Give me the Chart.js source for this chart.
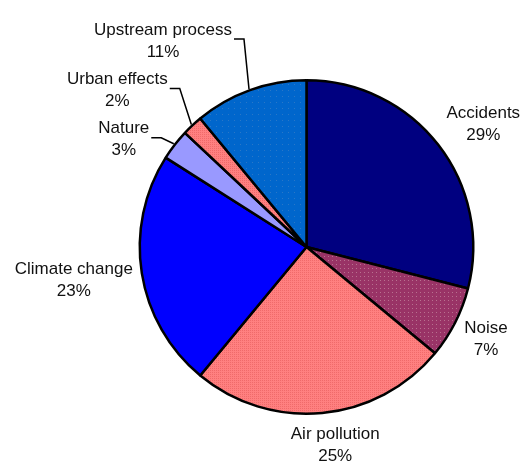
<!DOCTYPE html>
<html>
<head>
<meta charset="utf-8">
<script src="https://cdn.jsdelivr.net/npm/chart.js@4/dist/chart.umd.min.js"></script>
<style>
  html, body { margin: 0; padding: 0; background: #fff; }
  #wrap { width: 524px; height: 462px; }
</style>
</head>
<body>
<div id="wrap"><canvas id="pie" width="524" height="462"></canvas></div>
<script>
// data
const categories = ["Accidents", "Noise", "Air pollution", "Climate change", "Nature", "Urban effects", "Upstream process"];
const shares = [29, 7, 25, 23, 3, 2, 11];

// label placement: offset of label centre from the slice's outer edge (mid angle)
const labelOffsets = [[45, -20], [31, 17], [13, 32], [-68, 7], [-51, -5], [-75, -35], [-87, -49]];
const withLeader = [false, false, false, false, true, true, true];

// small dotted fills like the old office chart
function dotPattern(base, dot, step) {
  const c = document.createElement("canvas");
  c.width = step; c.height = step;
  const g = c.getContext("2d");
  g.fillStyle = base;
  g.fillRect(0, 0, step, step);
  g.fillStyle = dot;
  g.fillRect(0, 0, 1, 1);
  return g.createPattern(c, "repeat");
}

const ctx = document.getElementById("pie").getContext("2d");
const fills = [
  "#000080",
  dotPattern("#993366", "#b8708f", 4),
  dotPattern("#ff8080", "#f06a6a", 2),
  "#0000ff",
  "#9999ff",
  dotPattern("#ff8080", "#f06a6a", 2),
  dotPattern("#0066cc", "#2a78c8", 6)
];

const labelPlugin = {
  id: "outerLabels",
  afterDatasetsDraw(chart) {
    const g = chart.ctx;
    const arcs = chart.getDatasetMeta(0).data;
    g.save();
    g.font = "17px 'Liberation Sans', Arial, sans-serif";
    g.fillStyle = "#111";
    g.textAlign = "center";
    g.textBaseline = "middle";
    g.strokeStyle = "#000";
    g.lineWidth = 1.5;
    arcs.forEach((arc, i) => {
      const p = arc.getProps(["x", "y", "startAngle", "endAngle", "outerRadius"], true);
      const mid = (p.startAngle + p.endAngle) / 2;
      const ex = p.x + Math.cos(mid) * p.outerRadius;
      const ey = p.y + Math.sin(mid) * p.outerRadius;
      const lx = ex + labelOffsets[i][0];
      const ly = ey + labelOffsets[i][1];
      const l1 = categories[i];
      const l2 = shares[i] + "%";
      g.fillText(l1, lx, ly - 11);
      g.fillText(l2, lx, ly + 11);
      if (withLeader[i]) {
        const right = lx + g.measureText(l1).width / 2;
        const elbowY = ly - 2;
        g.beginPath();
        g.moveTo(right + 2, elbowY);
        g.lineTo(right + 12, elbowY);
        g.lineTo(ex - 1, ey - 1);
        g.stroke();
      }
    });
    g.restore();
  }
};

new Chart(ctx, {
  type: "pie",
  data: {
    labels: categories,
    datasets: [{
      data: shares,
      backgroundColor: fills,
      borderColor: "#000",
      borderWidth: 2.5
    }]
  },
  options: {
    responsive: false,
    animation: false,
    layout: { padding: { top: 79, bottom: 47, left: 138, right: 49 } },
    plugins: {
      legend: { display: false },
      tooltip: { enabled: false }
    }
  },
  plugins: [labelPlugin]
});
</script>
</body>
</html>
